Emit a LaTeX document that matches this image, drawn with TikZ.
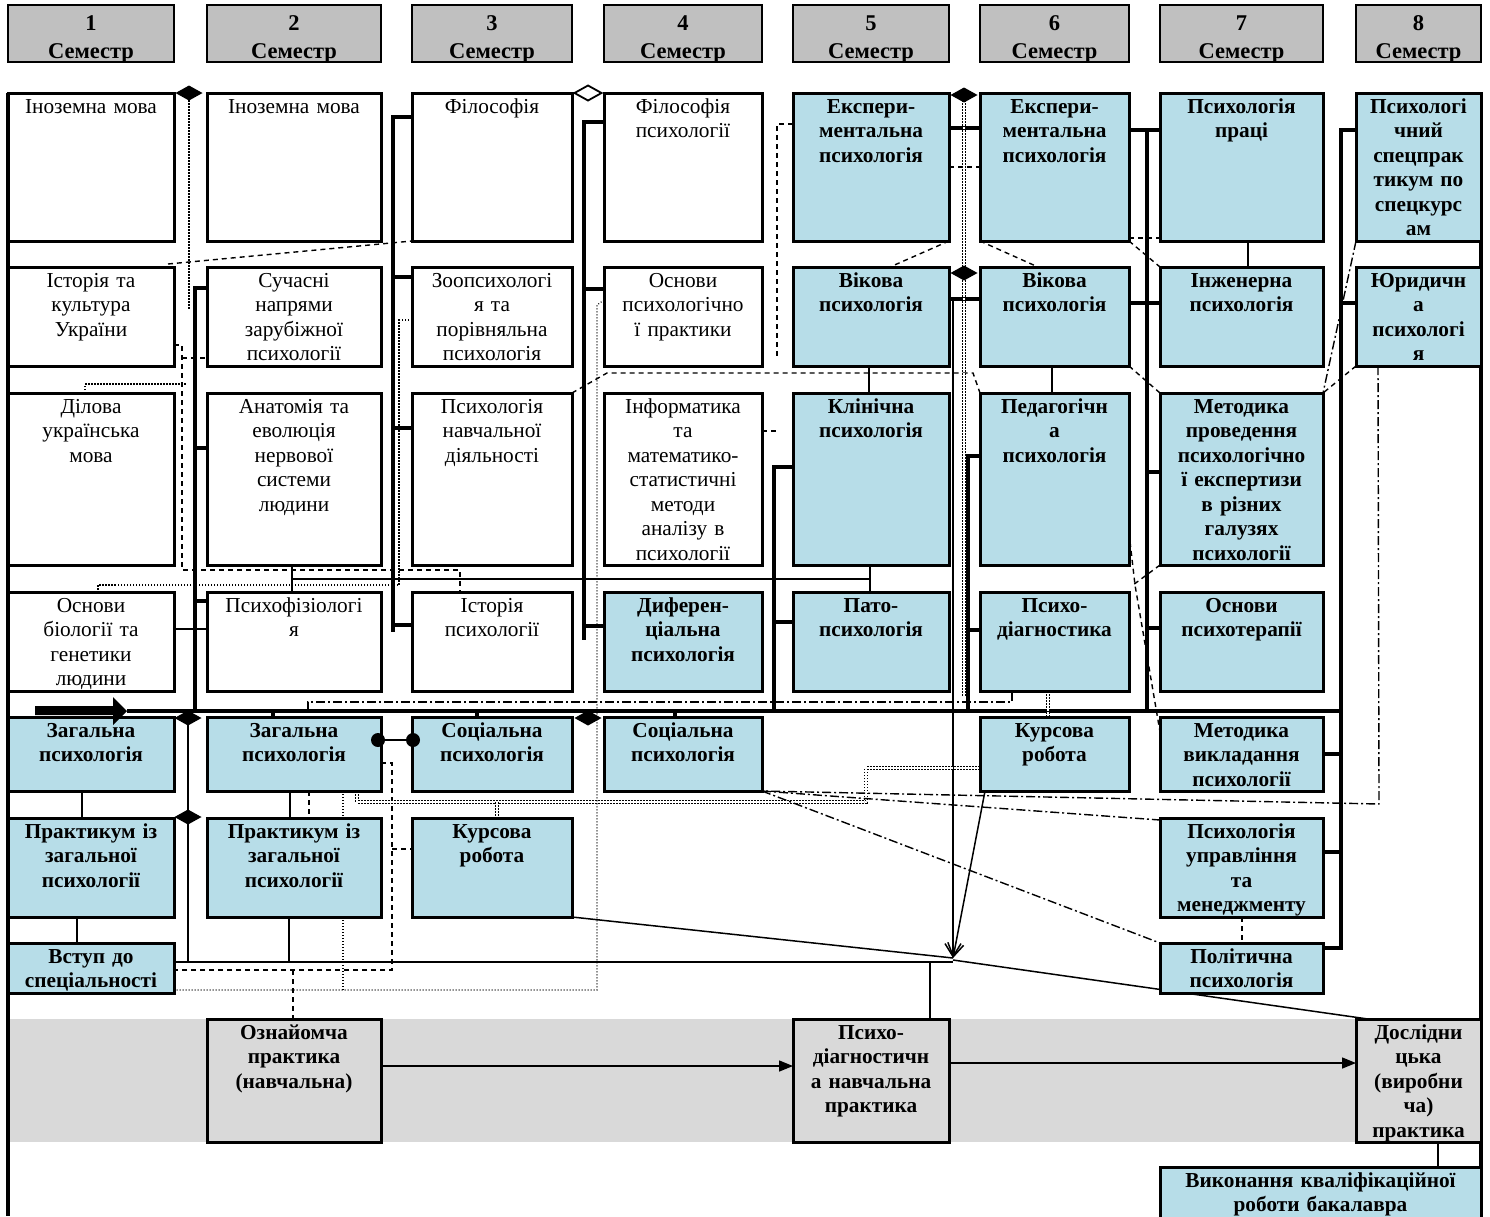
\documentclass[tikz,border=0pt]{standalone}
\usepackage{fontspec}
\setmainfont{Liberation Serif}
\usetikzlibrary{shapes.geometric,arrows.meta,calc}
\definecolor{lblue}{HTML}{B7DDE8}
\definecolor{pgray}{HTML}{D9D9D9}
\definecolor{hgray}{HTML}{C0C0C0}
\pgfdeclarelayer{back}\pgfdeclarelayer{bg}\pgfsetlayers{back,bg,main}
\newcommand\fsz{\fontsize{21.3}{24.5}\selectfont}
\newcommand\crs[8]{%
  \pgfmathsetmacro\crsW{#6-#4}\pgfmathsetmacro\crsH{#7-#5}%
  \pgfmathsetmacro\crsX{(#4+#6)/2}\pgfmathsetmacro\crsY{(#5+#7)/2}%
  \pgfmathsetmacro\crsT{#6-#4-4}\pgfmathsetmacro\crsB{#5+20}%
  \node[#2, minimum width=\crsW pt, minimum height=\crsH pt] (#1) at (\crsX,\crsY) {};
  \node[#3, text width=\crsT pt, anchor=base] (#1t) at (\crsX,\crsB) {#8};
}
\newcommand\hdr[4]{%
  \pgfmathsetmacro\hW{#3-#2}\pgfmathsetmacro\hX{(#2+#3)/2}\pgfmathsetmacro\hT{#3-#2-4}%
  \node[hbox, minimum width=\hW pt, minimum height=57pt] (#1) at (\hX,33.5) {};
  \node[htxt, text width=\hT pt, anchor=base] (#1t) at (\hX,30) {#4\\Семестр};
}
\begin{document}
\begin{tikzpicture}[x=1pt,y=-1pt,
  wbox/.style={draw, line width=3pt, fill=white, inner sep=0pt, outer sep=0pt},
  bbox/.style={wbox, fill=lblue},
  gbox/.style={wbox, fill=pgray},
  hbox/.style={draw, line width=1.4pt, fill=hgray, inner sep=0pt, outer sep=0pt},
  txt/.style={inner sep=0pt, outer sep=0pt, align=center, font=\fsz},
  btxt/.style={txt, font=\fsz\bfseries},
  htxt/.style={inner sep=0pt, outer sep=0pt, align=center, font=\fontsize{22.5}{28}\selectfont\bfseries},
  thickc/.style={line width=3.4pt},
  medc/.style={line width=2.4pt},
  thinc/.style={line width=1.5pt},
  dsh/.style={line width=1.4pt, dash pattern=on 5pt off 4pt},
  dashdot/.style={line width=1.4pt, dash pattern=on 9pt off 3pt on 2pt off 3pt},
  dotd/.style={line width=2.6pt, dash pattern=on 1.5pt off 1.5pt},
  ddot/.style={double, double distance=1.6pt, line width=1.2pt, dash pattern=on 1.5pt off 1.5pt},
  dotthin/.style={line width=1.1pt, dash pattern=on 1pt off 2pt},
  frame/.style={line width=3.2pt},
  dmd/.style={diamond, fill=black, inner sep=0pt, outer sep=0pt, minimum width=27pt, minimum height=15pt},
  hdmd/.style={dmd, fill=white, draw=black, line width=1.8pt},
  dotn/.style={circle, fill=black, inner sep=0pt, minimum size=14pt},
  barb/.style={-{Straight Barb[length=13pt,width=16pt]}},
  tri/.style={-{Triangle[length=14pt,width=11pt]}}
]
\useasboundingbox (0,0) rectangle (1490,1216);
\clip (0,0) rectangle (1490,1216);
\begin{pgfonlayer}{back}
\fill[white] (0,0) rectangle (1490,1216);
\node[fill=pgray, inner sep=0pt, outer sep=0pt, minimum width=1473pt, minimum height=123pt] (band) at (744.5,1080.5) {};
\end{pgfonlayer}

% headers
\hdr{h1}{8}{174}{1}
\hdr{h2}{207}{381}{2}
\hdr{h3}{412}{572}{3}
\hdr{h4}{604}{762}{4}
\hdr{h5}{793}{949}{5}
\hdr{h6}{980}{1129}{6}
\hdr{h7}{1160}{1323}{7}
\hdr{h8}{1356}{1481}{8}

% ===== frame lines =====
\coordinate (fl1) at (8,93);   \coordinate (fl2) at (8,1216);
\coordinate (fr1) at (1481,241); \coordinate (fr2) at (1481,1216);
\draw[frame] (fl1) -- (fl2);
\draw[frame] (fr1) -- (fr2);

% ---- boxes ----
\crs{rA1}{wbox}{txt}{8}{93}{174}{241}{Іноземна мова}
\crs{rA2}{wbox}{txt}{207}{93}{381}{241}{Іноземна мова}
\crs{rA3}{wbox}{txt}{412}{93}{572}{241}{Філософія}
\crs{rA4}{wbox}{txt}{604}{93}{762}{241}{Філософія\\психології}
\crs{rA5}{bbox}{btxt}{793}{93}{949}{241}{Експери-\\ментальна\\психологія}
\crs{rA6}{bbox}{btxt}{980}{93}{1129}{241}{Експери-\\ментальна\\психологія}
\crs{rA7}{bbox}{btxt}{1160}{93}{1323}{241}{Психологія\\праці}
\crs{rA8}{bbox}{btxt}{1356}{93}{1481}{241}{Психологі\\чний\\спецпрак\\тикум по\\спецкурс\\ам}

\crs{rB1}{wbox}{txt}{8}{267}{174}{366}{Історія та\\культура\\України}
\crs{rB2}{wbox}{txt}{207}{267}{381}{366}{Сучасні\\напрями\\зарубіжної\\психології}
\crs{rB3}{wbox}{txt}{412}{267}{572}{366}{Зоопсихологі\\я та\\порівняльна\\психологія}
\crs{rB4}{wbox}{txt}{604}{267}{762}{366}{Основи\\психологічно\\ї практики}
\crs{rB5}{bbox}{btxt}{793}{267}{949}{366}{Вікова\\психологія}
\crs{rB6}{bbox}{btxt}{980}{267}{1129}{366}{Вікова\\психологія}
\crs{rB7}{bbox}{btxt}{1160}{267}{1323}{366}{Інженерна\\психологія}
\crs{rB8}{bbox}{btxt}{1356}{267}{1481}{366}{Юридичн\\а\\психологі\\я}

\crs{rC1}{wbox}{txt}{8}{393}{174}{565}{Ділова\\українська\\мова}
\crs{rC2}{wbox}{txt}{207}{393}{381}{565}{Анатомія та\\еволюція\\нервової\\системи\\людини}
\crs{rC3}{wbox}{txt}{412}{393}{572}{565}{Психологія\\навчальної\\діяльності}
\crs{rC4}{wbox}{txt}{604}{393}{762}{565}{Інформатика\\та\\математико-\\статистичні\\методи\\аналізу в\\психології}
\crs{rC5}{bbox}{btxt}{793}{393}{949}{565}{Клінічна\\психологія}
\crs{rC6}{bbox}{btxt}{980}{393}{1129}{565}{Педагогічн\\а\\психологія}
\crs{rC7}{bbox}{btxt}{1160}{393}{1323}{565}{Методика\\проведення\\психологічно\\ї експертизи\\в різних\\галузях\\психології}

\crs{rD1}{wbox}{txt}{8}{592}{174}{691}{Основи\\біології та\\генетики\\людини}
\crs{rD2}{wbox}{txt}{207}{592}{381}{691}{Психофізіологі\\я}
\crs{rD3}{wbox}{txt}{412}{592}{572}{691}{Історія\\психології}
\crs{rD4}{bbox}{btxt}{604}{592}{762}{691}{Диферен-\\ціальна\\психологія}
\crs{rD5}{bbox}{btxt}{793}{592}{949}{691}{Пато-\\психологія}
\crs{rD6}{bbox}{btxt}{980}{592}{1129}{691}{Психо-\\діагностика}
\crs{rD7}{bbox}{btxt}{1160}{592}{1323}{691}{Основи\\психотерапії}

\crs{rE1}{bbox}{btxt}{8}{717}{174}{791}{Загальна\\психологія}
\crs{rE2}{bbox}{btxt}{207}{717}{381}{791}{Загальна\\психологія}
\crs{rE3}{bbox}{btxt}{412}{717}{572}{791}{Соціальна\\психологія}
\crs{rE4}{bbox}{btxt}{604}{717}{762}{791}{Соціальна\\психологія}
\crs{rE6}{bbox}{btxt}{980}{717}{1129}{791}{Курсова\\робота}
\crs{rE7}{bbox}{btxt}{1160}{717}{1323}{791}{Методика\\викладання\\психології}

\crs{rF1}{bbox}{btxt}{8}{818}{174}{917}{Практикум із\\загальної\\психології}
\crs{rF2}{bbox}{btxt}{207}{818}{381}{917}{Практикум із\\загальної\\психології}
\crs{rF3}{bbox}{btxt}{412}{818}{572}{917}{Курсова\\робота}
\crs{rF7}{bbox}{btxt}{1160}{818}{1323}{917}{Психологія\\управління\\та\\менеджменту}

\crs{rG1}{bbox}{btxt}{8}{943}{174}{993}{Вступ до\\спеціальності}
\crs{rG7}{bbox}{btxt}{1160}{943}{1323}{993}{Політична\\психологія}

\crs{rP2}{gbox}{btxt}{207}{1019}{381}{1142}{Ознайомча\\практика\\(навчальна)}
\crs{rP5}{gbox}{btxt}{793}{1019}{949}{1142}{Психо-\\діагностичн\\а навчальна\\практика}
\crs{rP8}{gbox}{btxt}{1356}{1019}{1481}{1142}{Дослідни\\цька\\(виробни\\ча)\\практика}
\crs{rQ}{bbox}{btxt}{1160}{1167}{1481}{1240}{Виконання кваліфікаційної\\роботи бакалавра}

\begin{pgfonlayer}{bg}
% thick buses
\draw[thickc] (rB2.west|-0,288) -- (195,288) -- (195,711);
\draw[thickc] (rC2.west|-0,448) -- (195,448);
\draw[thickc] (rD2.west|-0,601) -- (195,601);

\draw[thickc] (rA3.west|-0,117) -- (393,117) -- (393,632);
\draw[thickc] (393,277) -- (rB3.west|-0,277);
\draw[thickc] (393,428) -- (rC3.west|-0,428);
\draw[thickc] (393,625) -- (rD3.west|-0,625);

\draw[thickc] (rA4.west|-0,122) -- (584,122) -- (584,640);
\draw[thickc] (584,289) -- (rB4.west|-0,289);
\draw[thickc] (584,626) -- (rD4.west|-0,626);

\draw[thickc] (rC5.west|-0,467) -- (774,467) -- (774,711);
\draw[thickc] (774,622) -- (rD5.west|-0,622);

\draw[thickc] (rA5.east|-0,128) -- (rA6.west|-0,128);
\draw[thickc] (rB5.east|-0,299) -- (rB6.west|-0,299);

\draw[thickc] (rC6.west|-0,456) -- (968,456) -- (968,711);
\draw[thickc] (968,630) -- (rD6.west|-0,630);

\draw[thickc] (rA6.east|-0,130) -- (rA7.west|-0,130);
\draw[thickc] (1147,130) -- (1147,711);
\draw[thickc] (rB6.east|-0,303) -- (rB7.west|-0,303);
\draw[thickc] (1147,472) -- (rC7.west|-0,472);
\draw[thickc] (1147,628) -- (rD7.west|-0,628);

\draw[thickc] (rA8.west|-0,130) -- (1341,130) -- (1341,948) -- (rG7.east|-0,948);
\draw[thickc] (1341,303) -- (rB8.west|-0,303);
\draw[thickc] (1341,754) -- (rE7.east|-0,754);
\draw[thickc] (1341,852) -- (rF7.east|-0,852);

\draw[thickc] (127,711) -- (1341,711);
\draw[thickc] (273,711) -- (rE2.north-|273,0);
\draw[thickc] (477,711) -- (rE3.north-|477,0);
\draw[thickc] (675,711) -- (rE4.north-|675,0);

% solid thin / medium
\draw[medc] (188,711) -- (188,962);
\draw[thinc] (rE1.south-|82,0) -- (rF1.north-|82,0);
\draw[thinc] (rF1.south-|77,0) -- (rG1.north-|77,0);
\draw[medc] (rE2.south-|290,0) -- (rF2.north-|290,0);
\draw[medc] (rF2.south-|289,0) -- (289,962);
\draw[thinc] (rG1.east|-0,962) -- (953,962);
\draw[thinc] (930,962) -- (rP5.north-|930,0);
\draw[thinc] (rB5.south-|869,0) -- (rC5.north-|869,0);
\draw[thinc] (rB6.south-|1052,0) -- (rC6.north-|1052,0);
\draw[thinc] (rA7.south-|1248,0) -- (rB7.north-|1248,0);
\draw[thinc] (rC2.south-|292,0) -- (rD2.north-|292,0);
\draw[thinc] (292,579) -- (870,579);
\draw[thinc] (rC5.south-|870,0) -- (rD5.north-|870,0);
\draw[thinc] (rD1.east|-0,629) -- (rD2.west|-0,629);
\coordinate (hub) at (953,958);
\draw[thinc, barb] (953,299) -- (hub);
\draw[thinc, barb] (rE6.south-|985,0) -- (hub);
\draw[thinc] (rF3.south east) -- (hub);
\draw[thinc] (953,960) -- (rP8.north-|1368,0);
\draw[thinc, tri] (rP2.east|-0,1066) -- (rP5.west|-0,1066);
\draw[thinc, tri] (rP5.east|-0,1063) -- (rP8.west|-0,1063);
\draw[thinc] (rP8.south-|1438,0) -- (rQ.north-|1438,0);

% dashed
\draw[dsh] (168,264) -- (rA3.south west);
\draw[dsh] (rB1.east|-0,345) -- (182,345) -- (182,570) -- (460,570) -- (rD3.north-|460,0);
\draw[dsh] (182,358) -- (rB2.west|-0,358);
\draw[dsh] (rC3.north east) -- (607,373) -- (973,373) -- (rC6.north west);
\draw[dsh] (rC4.east|-0,431) -- (778,431);
\draw[dsh] (rA5.west|-0,124) -- (777,124) -- (777,357);
\draw[dsh] (rA5.south east) -- (rB5.north-|890,0);
\draw[dsh] (rA6.south west) -- (rB6.north-|1038,0);
\draw[dsh] (rA5.east|-0,167) -- (rA6.west|-0,167);
\draw[dsh] (rA6.east|-0,238) -- (rA7.west|-0,238);
\draw[dsh] (rA6.south east) -- (rB7.north west);
\draw[dsh] (rB6.south east) -- (rC7.north west);
\draw[dsh] (rC6.east|-0,533) -- (1135,585) -- (rE7.west|-0,732);
\draw[dsh] (rC7.south west) -- (1133,585);
\draw[dsh] (rB8.south west) -- (rC7.north east);
\draw[dsh] (rE2.east|-0,763) -- (392,763) -- (392,970) -- (rG1.east|-0,970);
\draw[dsh] (392,849) -- (rF3.west|-0,849);
\draw[dsh] (293,970) -- (rP2.north-|293,0);
\draw[dsh] (rE2.south-|309,0) -- (rF2.north-|309,0);
\draw[dsh] (rF7.south-|1242,0) -- (rG7.north-|1242,0);

% dotted
\draw[dotd] (189,100) -- (189,310);
\draw[dotd] (rC1.north-|85,0) -- (85,384) -- (187,384);
\draw[dotd] (rB3.west|-0,320) -- (399,320) -- (399,585) -- (98,585) -- (rD1.north-|98,0);
\draw[ddot] (964,100) -- (964,697);
\draw[ddot] (rD6.south-|1048,0) -- (rE6.north-|1048,0);
\draw[ddot] (rE2.south-|357,0) -- (357,802) -- (866,802) -- (866,768) -- (rE6.west|-0,768);
\draw[ddot] (497,802) -- (rF3.north-|497,0);
\draw[dotthin] (rB4.west|-0,300) -- (597,305) -- (597,990) -- (rG1.east|-0,990);
\draw[dotthin] (rE2.south-|343,0) -- (343,990);

% dash-dot
\draw[dashdot] (308,711) -- (308,702) -- (1012,702) -- (rD6.south-|1012,0);
\draw[dashdot] (rA8.south west) -- (rC7.north east);
\draw[dashdot] (rB8.south-|1378,0) -- (1379,804) -- (rE4.south east);
\draw[dashdot] (rE4.south east) -- (rF7.west|-0,820);
\draw[dashdot] (rE4.south east) -- (rG7.north west);
\end{pgfonlayer}

% big arrow
\fill (35,706) -- (113,706) -- (113,697) -- (127,711) -- (113,725) -- (113,715) -- (35,715) -- cycle;

% diamonds
\node[dmd] (dm1) at (189,93) {};
\node[dmd] (dm2) at (188,718) {};
\node[dmd] (dm3) at (188,817) {};
\node[dmd] (dm4) at (588,718) {};
\node[dmd] (dm5) at (964,95) {};
\node[dmd] (dm6) at (964,273) {};
\node[hdmd] (dm7) at (588,93) {};

% circles link
\node[dotn] (k1) at (378,740) {};
\node[dotn] (k2) at (413,740) {};
\draw[thinc] (k1) -- (k2);
\end{tikzpicture}
\end{document}
